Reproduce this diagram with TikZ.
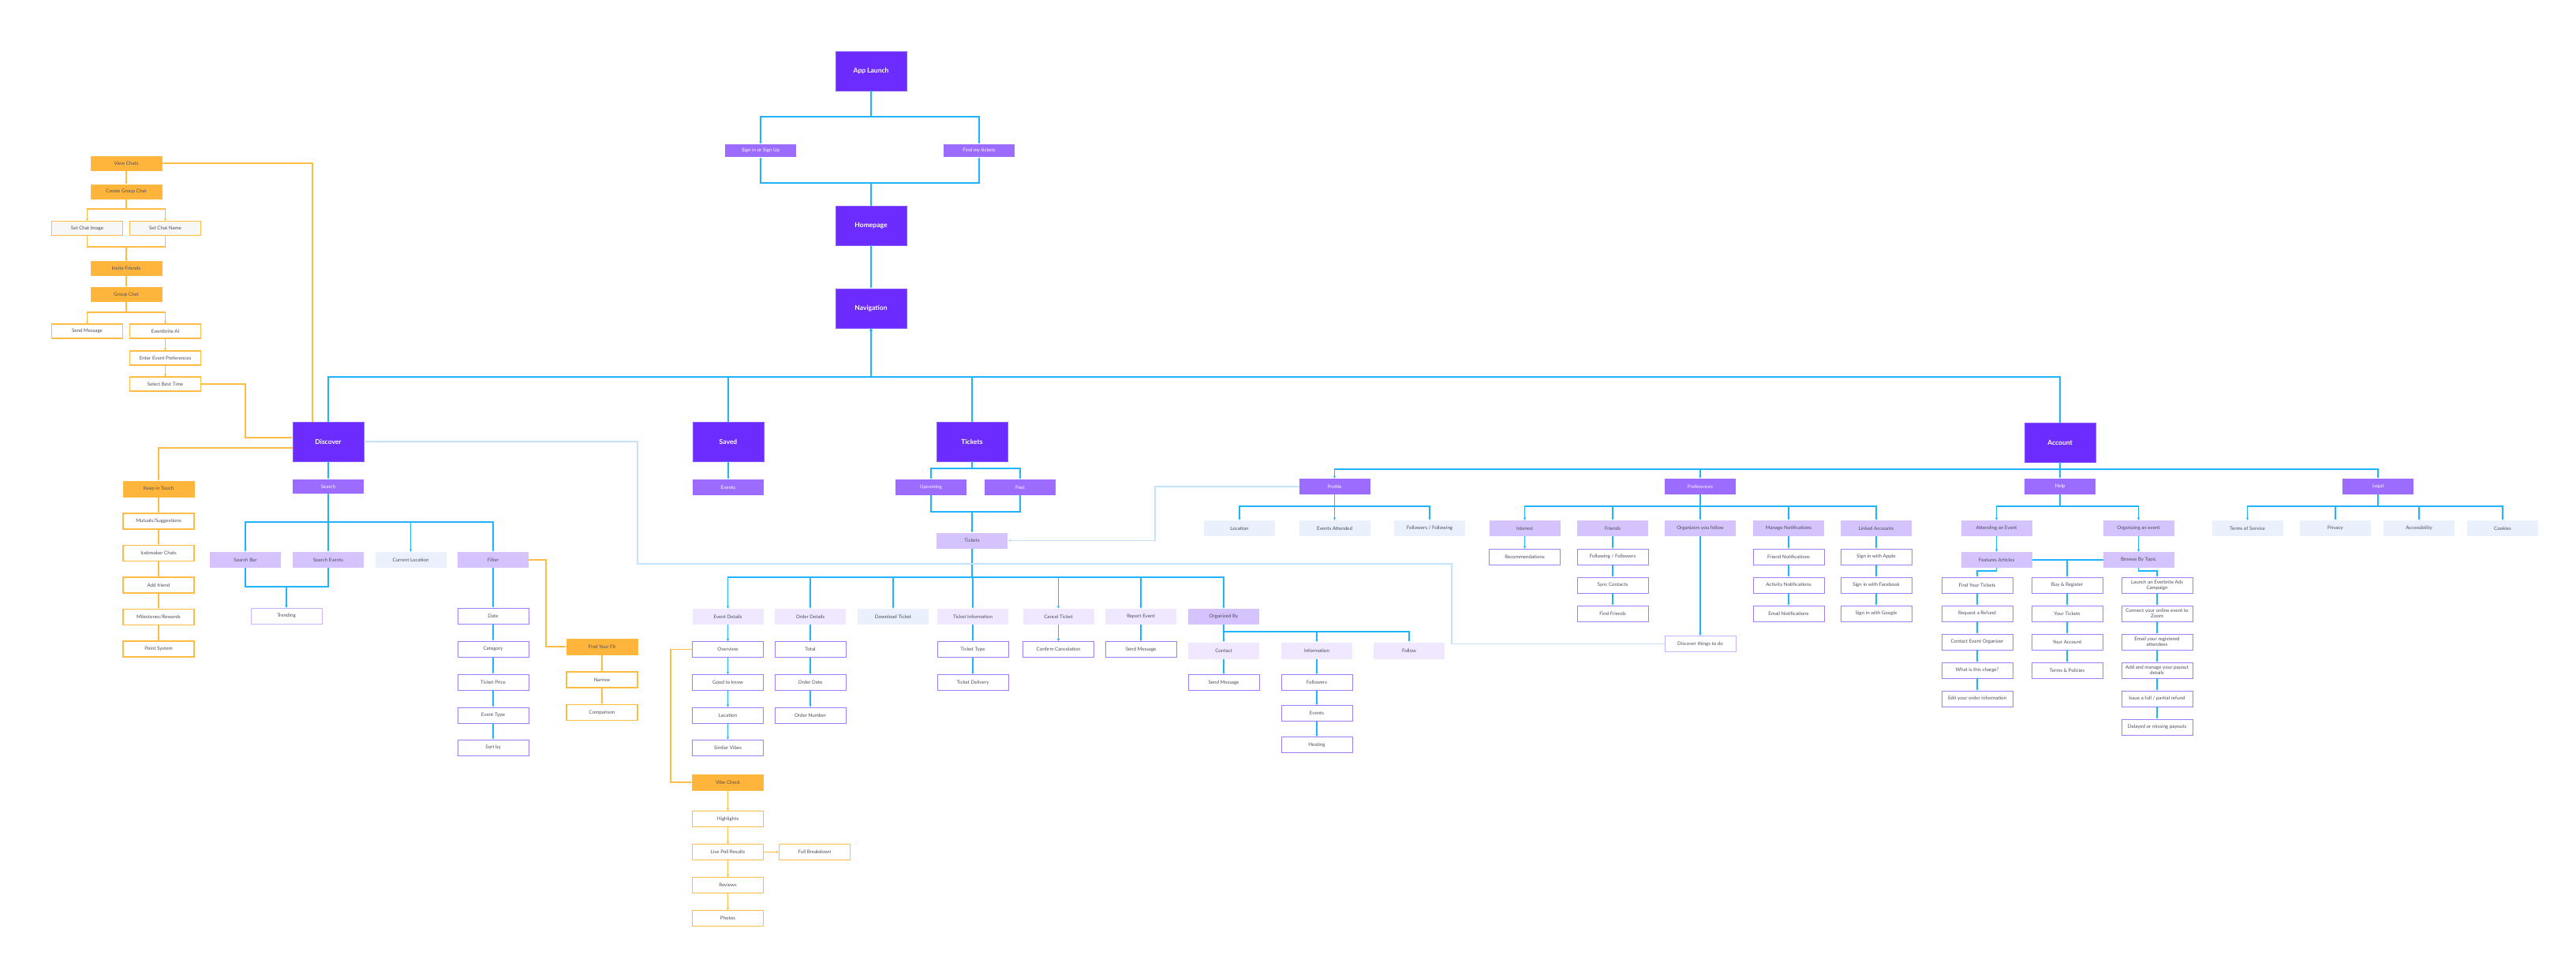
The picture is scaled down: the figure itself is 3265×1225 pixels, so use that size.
\documentclass[tikz,border=0pt]{standalone}
\usepackage{fontspec}
\setmainfont{Lato}
\usetikzlibrary{arrows.meta}
\definecolor{dpur}{HTML}{6C2BFF}
\definecolor{dpurb}{HTML}{8A5CFF}
\definecolor{mpur}{HTML}{9C6BFF}
\definecolor{lpur}{HTML}{D4C3FC}
\definecolor{vlpur}{HTML}{EFE8FE}
\definecolor{lblu}{HTML}{EAF1FD}
\definecolor{bpur}{HTML}{A07CF7}
\definecolor{lpurb}{HTML}{C9B3FA}
\definecolor{ofill}{HTML}{FFB53B}
\definecolor{oline}{HTML}{FFBC45}
\definecolor{odot}{HTML}{F7F7F7}
\definecolor{txt}{HTML}{4E4E5E}
\definecolor{cblue}{HTML}{20B4FF}
\definecolor{clblue}{HTML}{C3E2FF}
\tikzset{
 base/.style={rectangle, minimum width=90pt, minimum height=20pt, inner sep=1pt, outer sep=0pt, align=center, font=\fontsize{6.2}{7.4}\selectfont, text=txt},
 bigbox/.style={base, fill=dpur, draw=dpurb, line width=0.6pt, minimum height=50pt, text=white, font=\fontsize{8.5}{10}\selectfont\bfseries},
 midbox/.style={base, fill=mpur, text=white},
 lpbox/.style={base, fill=lpur},
 vlbox/.style={base, fill=vlpur},
 lbbox/.style={base, fill=lblu},
 wpbox/.style={base, fill=white, draw=bpur, line width=0.9pt},
 wlbox/.style={base, fill=white, draw=lpurb, line width=0.9pt},
 obox/.style={base, fill=ofill, draw=oline, line width=0.8pt},
 owbox/.style={base, fill=white, draw=oline, line width=1.1pt},
 odbox/.style={base, fill=odot, draw=oline, line width=1.1pt},
 cb/.style={draw=cblue, line width=1.1pt},
 cba/.style={cb, -{Latex[length=3.5pt,width=3.5pt]}},
 co/.style={draw=oline, line width=1.1pt},
 coa/.style={co, -{Latex[length=3.5pt,width=3.5pt]}},
 clba/.style={draw=clblue, line width=1.3pt, -{Latex[length=4pt,width=4pt]}},
}
\begin{document}
\begin{tikzpicture}[x=1pt,y=-1pt]
\useasboundingbox (0,0) rectangle (3265,1225);
\fill[white] (0,0) rectangle (3265,1225);
% bus levels
\coordinate (b148) at (0,148);
\coordinate (b232) at (0,232);
\coordinate (bnav) at (0,478);
\coordinate (bsearch) at (0,662);
\coordinate (btrend) at (0,744);
\coordinate (btk) at (0,594);
\coordinate (btm) at (0,649);
\coordinate (btixs) at (0,732);
\coordinate (borg) at (0,801);
\coordinate (bacct) at (0,595);
\coordinate (bsub) at (0,642);
\coordinate (bfeat) at (0,724);
\coordinate (bcg) at (0,265);
\coordinate (bset) at (0,313);
\coordinate (bgc) at (0,396);

% main
\node[bigbox] (app) at (1104,90) {App Launch};
\node[midbox,minimum height=16pt] (signin) at (964,191) {Sign in or Sign Up};
\node[midbox,minimum height=16pt] (findt) at (1241,191) {Find my tickets};
\node[bigbox] (home) at (1104,286) {Homepage};
\node[bigbox] (nav) at (1104,391) {Navigation};
\node[bigbox] (disc) at (416,560) {Discover};
\node[bigbox] (saved) at (923,560) {Saved};
\node[bigbox] (tixb) at (1232,560) {Tickets};
\node[bigbox] (acct) at (2611,561) {Account};

% chat
\node[obox,minimum height=18pt] (vchat) at (160,207) {View Chats};
\node[obox,minimum height=18pt] (cgc) at (160,243) {Create Group Chat};
\node[odbox,minimum height=18pt] (scimg) at (110.5,289.5) {Set Chat Image};
\node[odbox,minimum height=18pt] (scname) at (209.5,289.5) {Set Chat Name};
\node[obox,minimum height=18pt] (invite) at (160,340.5) {Invite Friends};
\node[obox,minimum height=18pt] (gchat) at (160,373.5) {Group Chat};
\node[owbox,minimum height=18pt] (csend) at (110.5,420) {Send Message};
\node[owbox,minimum height=18pt] (eai) at (209.5,420) {Eventbrite AI};
\node[owbox,minimum height=18pt] (eep) at (209.5,454) {Enter Event Preferences};
\node[owbox,minimum height=18pt] (sbt) at (209.5,487) {Select Best Time};

% keep in touch
\node[obox] (kit) at (201,620) {Keep in Touch};
\node[owbox] (mut) at (201,661) {Mutuals/Suggestions};
\node[owbox] (ice) at (201,701.5) {Icebreaker Chats};
\node[owbox] (addf) at (201,742) {Add friend};
\node[owbox] (mile) at (201,782.5) {Milestones/Rewards};
\node[owbox] (pts) at (201,823) {Point System};

% search
\node[midbox,minimum height=18pt] (search) at (416,617) {Search};
\node[lpbox] (sbar) at (311,710) {Search Bar};
\node[lpbox] (sev) at (416,710) {Search Events};
\node[lbbox] (curloc) at (520.5,710) {Current Location};
\node[lpbox] (filter) at (625,710) {Filter};
\node[wlbox] (trend) at (363,781) {Trending};
\node[wpbox] (date) at (625,781) {Date};
\node[wpbox] (cat) at (625,823) {Category};
\node[wpbox] (tprice) at (625,865) {Ticket Price};
\node[wpbox] (etype) at (625,907) {Event Type};
\node[wpbox] (sortby) at (625,948) {Sort by};
\node[obox] (fyf) at (763,820) {Find Your Fit};
\node[owbox] (narrow) at (763,862) {Narrow};
\node[owbox] (comp) at (763,903.5) {Comparison};

% saved
\node[midbox] (sevents) at (923,618) {Events};

% tickets
\node[midbox] (upc) at (1180,618) {Upcoming};
\node[midbox] (past) at (1293,618) {Past};
\node[lpbox] (tixs) at (1232,685.5) {Tickets};
\node[vlbox] (evd) at (922.5,782) {Event Details};
\node[vlbox] (ord) at (1027,782) {Order Details};
\node[lbbox] (dlt) at (1132,782) {Download Ticket};
\node[vlbox] (tinfo) at (1233,782) {Ticket Information};
\node[vlbox] (cancel) at (1341.5,782) {Cancel Ticket};
\node[vlbox] (report) at (1446,782) {Report Event};
\node[lpbox] (orgby) at (1551,782) {Organized By};
\node[wpbox] (over) at (922.5,823.5) {Overview};
\node[wpbox] (gtk) at (922.5,865.5) {Good to know};
\node[wpbox] (loc) at (922.5,907) {Location};
\node[wpbox] (simv) at (922.5,948) {Similar Vibes};
\node[wpbox] (total) at (1027,823.5) {Total};
\node[wpbox] (odate) at (1027,865.5) {Order Date};
\node[wpbox] (onum) at (1027,907) {Order Number};
\node[wpbox] (ttype) at (1233,823.5) {Ticket Type};
\node[wpbox] (tdel) at (1233,865.5) {Ticket Delivery};
\node[wpbox] (ccan) at (1341.5,823.5) {Confirm Cancelation};
\node[wpbox] (rsend) at (1446,823.5) {Send Message};
\node[vlbox,minimum height=21pt] (contact) at (1551,825) {Contact};
\node[vlbox,minimum height=21pt] (info) at (1669,825) {Information};
\node[vlbox,minimum height=21pt] (follow) at (1786,825) {Follow};
\node[wpbox] (osend) at (1551,865.5) {Send Message};
\node[wpbox] (fols) at (1669,865.5) {Followers};
\node[wpbox] (oev) at (1669,904.5) {Events};
\node[wpbox] (host) at (1669,944.5) {Hosting};

% vibe check
\node[obox] (vibe) at (922.5,992) {Vibe Check};
\node[owbox] (high) at (922.5,1038.5) {Highlights};
\node[owbox] (poll) at (922.5,1080.5) {Live Poll Results};
\node[owbox] (fullb) at (1032.5,1080.5) {Full Breakdown};
\node[owbox] (rev) at (922.5,1122.5) {Reviews};
\node[owbox] (photo) at (922.5,1164.5) {Photos};

% account
\node[midbox] (prof) at (1691.5,617) {Profile};
\node[lbbox] (ploc) at (1571,670) {Location};
\node[lbbox] (patt) at (1691.5,670) {Events Attended};
\node[lbbox] (pfol) at (1812,670) {Followers / Following};
\node[midbox] (pref) at (2155,617) {Preferences};
\node[lpbox] (inter) at (1932.5,670) {Interest};
\node[lpbox] (friends) at (2044,670) {Friends};
\node[lpbox] (orgf) at (2155,670) {Organizers you follow};
\node[lpbox] (mnot) at (2267,670) {Manage Notifications};
\node[lpbox] (link) at (2378,670) {Linked Accounts};
\node[wpbox] (recom) at (1932.5,706) {Recommendations};
\node[wpbox] (ffol) at (2044,706) {Following / Followers};
\node[wpbox] (sync) at (2044,742) {Sync Contacts};
\node[wpbox] (findf) at (2044,778) {Find Friends};
\node[wpbox] (fnot) at (2267,706) {Friend Notifications};
\node[wpbox] (anot) at (2267,742) {Activity Notifications};
\node[wpbox] (enot) at (2267,778) {Email Notifications};
\node[wpbox] (sapple) at (2378,706) {Sign in with Apple};
\node[wpbox] (sfb) at (2378,742) {Sign in with Facebook};
\node[wpbox] (sgoog) at (2378,778) {Sign in with Google};
\node[wpbox,draw=lpurb] (dtd) at (2155,816.5) {Discover things to do};

\node[midbox] (help) at (2611,617) {Help};
\node[lpbox] (attend) at (2530.5,670) {Attending an Event};
\node[lpbox] (organ) at (2710.5,670) {Organizing an event};
\node[lpbox] (feat) at (2530.5,710) {Features Articles};
\node[lpbox] (brw) at (2710.5,710) {Browse By Topic};
\node[wpbox] (fyt) at (2506,742) {Find Your Tickets};
\node[wpbox] (refund) at (2506,778) {Request a Refund};
\node[wpbox] (ceo) at (2506,814) {Contact Event Organizer};
\node[wpbox] (charge) at (2506,850) {What is this charge?};
\node[wpbox] (edit) at (2506,886) {Edit your order information};
\node[wpbox] (buy) at (2620,742) {Buy \& Register};
\node[wpbox] (ytix) at (2620,778) {Your Tickets};
\node[wpbox] (yacc) at (2620,814) {Your Account};
\node[wpbox] (terms) at (2620,850) {Terms \& Policies};
\node[wpbox] (launch) at (2734,742) {Launch an Everbrite Ads\\Campaign};
\node[wpbox] (zoom) at (2734,778) {Connect your online event to\\Zoom};
\node[wpbox] (email) at (2734,814) {Email your registered\\attendees};
\node[wpbox] (payout) at (2734,850) {Add and manage your payout\\details};
\node[wpbox] (issue) at (2734,886) {Issue a full / partial refund};
\node[wpbox] (delay) at (2734,922) {Delayed or missing payouts};

\node[midbox] (legal) at (3014,617) {Legal};
\node[lbbox] (tos) at (2848.5,670) {Terms of Service};
\node[lbbox] (priv) at (2960,670) {Privacy};
\node[lbbox] (acc) at (3066,670) {Accessibility};
\node[lbbox] (cook) at (3172,670) {Cookies};

% ---- connectors: top
\draw[cba] (app.south) -- (app.south |- b148) -| (signin.north);
\draw[cba] (app.south) -- (app.south |- b148) -| (findt.north);
\draw[cba] (home.north) -- (home.north |- b232) -| (signin.south);
\draw[cba] (home.north) -- (home.north |- b232) -| (findt.south);
\draw[cba] (home.south) -- (nav.north);
\foreach \n in {disc,saved,tixb,acct}{
  \draw[cba] (\n.north) -- (\n.north |- bnav) -| (nav.south);
}
% chat
\draw[coa] (vchat) -- (cgc);
\draw[coa] (cgc.south) -- (cgc.south |- bcg) -| (scimg.north);
\draw[coa] (cgc.south) -- (cgc.south |- bcg) -| (scname.north);
\draw[coa] (scimg.south) -- (scimg.south |- bset) -| (invite.north);
\draw[coa] (scname.south) -- (scname.south |- bset) -| (invite.north);
\draw[coa] (invite) -- (gchat);
\draw[coa] (gchat.south) -- (gchat.south |- bgc) -| (csend.north);
\draw[coa] (gchat.south) -- (gchat.south |- bgc) -| (eai.north);
\draw[coa] (eai) -- (eep);
\draw[coa] (eep) -- (sbt);
\draw[coa] (sbt.east) -- ++(56.5,0) |- ([yshift=5pt]disc.west);
\draw[coa] ([xshift=-20pt]disc.north) |- (vchat.east);
% keep in touch
\draw[coa] ([yshift=-8pt]disc.west) -| (kit.north);
\draw[coa] (kit) -- (mut);
\draw[coa] (mut) -- (ice);
\draw[coa] (ice) -- (addf);
\draw[coa] (addf) -- (mile);
\draw[coa] (mile) -- (pts);
% search
\draw[cba] (disc) -- (search);
\foreach \n in {sbar,sev,curloc,filter}{
  \draw[cba] (search.south) -- (search.south |- bsearch) -| (\n.north);
}
\draw[cba] (sbar.south) -- (sbar.south |- btrend) -| (trend.north);
\draw[cba] (sev.south) -- (sev.south |- btrend) -| (trend.north);
\draw[cba] (filter) -- (date);
\draw[cba] (date) -- (cat);
\draw[cba] (cat) -- (tprice);
\draw[cba] (tprice) -- (etype);
\draw[cba] (etype) -- (sortby);
\draw[coa] (filter.east) -- ++(22,0) |- (fyf.west);
\draw[coa] (fyf) -- (narrow);
\draw[coa] (narrow) -- (comp);
% saved
\draw[cba] (saved) -- (sevents);
% tickets
\draw[cba] (tixb.south) -- (tixb.south |- btk) -| (upc.north);
\draw[cba] (tixb.south) -- (tixb.south |- btk) -| (past.north);
\draw[cba] (upc.south) -- (upc.south |- btm) -| (tixs.north);
\draw[cba] (past.south) -- (past.south |- btm) -| (tixs.north);
\foreach \n in {evd,ord,dlt,tinfo,cancel,report,orgby}{
  \draw[cba] (tixs.south) -- (tixs.south |- btixs) -| (\n.north);
}
\draw[cba] (evd) -- (over);
\draw[cba] (over) -- (gtk);
\draw[cba] (gtk) -- (loc);
\draw[cba] (loc) -- (simv);
\draw[cba] (ord) -- (total);
\draw[cba] (total) -- (odate);
\draw[cba] (odate) -- (onum);
\draw[cba] (tinfo) -- (ttype);
\draw[cba] (ttype) -- (tdel);
\draw[cba] (cancel) -- (ccan);
\draw[cba] (report) -- (rsend);
\foreach \n in {contact,info,follow}{
  \draw[cba] (orgby.south) -- (orgby.south |- borg) -| (\n.north);
}
\draw[cba] (contact) -- (osend);
\draw[cba] (info) -- (fols);
\draw[cba] (fols) -- (oev);
\draw[cba] (oev) -- (host);
% vibe
\draw[coa] (over.west) -- ++(-27.5,0) |- (vibe.west);
\draw[coa] (vibe) -- (high);
\draw[coa] (high) -- (poll);
\draw[coa] (poll) -- (fullb);
\draw[coa] (poll) -- (rev);
\draw[coa] (rev) -- (photo);
% account
\foreach \n in {prof,pref,legal}{
  \draw[cba] (acct.south) -- (acct.south |- bacct) -| (\n.north);
}
\draw[cba] (acct) -- (help);
\foreach \n in {ploc,patt,pfol}{
  \draw[cba] (prof.south) -- (prof.south |- bsub) -| (\n.north);
}
\foreach \n in {inter,friends,orgf,mnot,link}{
  \draw[cba] (pref.south) -- (pref.south |- bsub) -| (\n.north);
}
\draw[cba] (inter) -- (recom);
\draw[cba] (friends) -- (ffol);
\draw[cba] (ffol) -- (sync);
\draw[cba] (sync) -- (findf);
\draw[cba] (orgf) -- (dtd);
\draw[cba] (mnot) -- (fnot);
\draw[cba] (fnot) -- (anot);
\draw[cba] (anot) -- (enot);
\draw[cba] (link) -- (sapple);
\draw[cba] (sapple) -- (sfb);
\draw[cba] (sfb) -- (sgoog);
\foreach \n in {tos,priv,acc,cook}{
  \draw[cba] (legal.south) -- (legal.south |- bsub) -| (\n.north);
}
% help
\draw[cba] (help.south) -- (help.south |- bsub) -| (attend.north);
\draw[cba] (help.south) -- (help.south |- bsub) -| (organ.north);
\draw[cba] (attend) -- (feat);
\draw[cba] (organ) -- (brw);
\draw[cb] (feat.east) -- (brw.west);
\draw[cba] (feat.east -| buy.north) -- (buy.north);
\draw[cba] (feat.south) -- (feat.south |- bfeat) -| (fyt.north);
\draw[cba] (brw.south) -- (brw.south |- bfeat) -| (launch.north);
\draw[cba] (fyt) -- (refund);
\draw[cba] (refund) -- (ceo);
\draw[cba] (ceo) -- (charge);
\draw[cba] (charge) -- (edit);
\draw[cba] (buy) -- (ytix);
\draw[cba] (ytix) -- (yacc);
\draw[cba] (yacc) -- (terms);
\draw[cba] (launch) -- (zoom);
\draw[cba] (zoom) -- (email);
\draw[cba] (email) -- (payout);
\draw[cba] (payout) -- (issue);
\draw[cba] (issue) -- (delay);
% light blue cross links
\draw[clba] (dtd.west) -| (1840,715) -- (808,715) |- (disc.east);
\draw[clba] (prof.west) -- (1464,617) |- (tixs.east);
\end{tikzpicture}
\end{document}
